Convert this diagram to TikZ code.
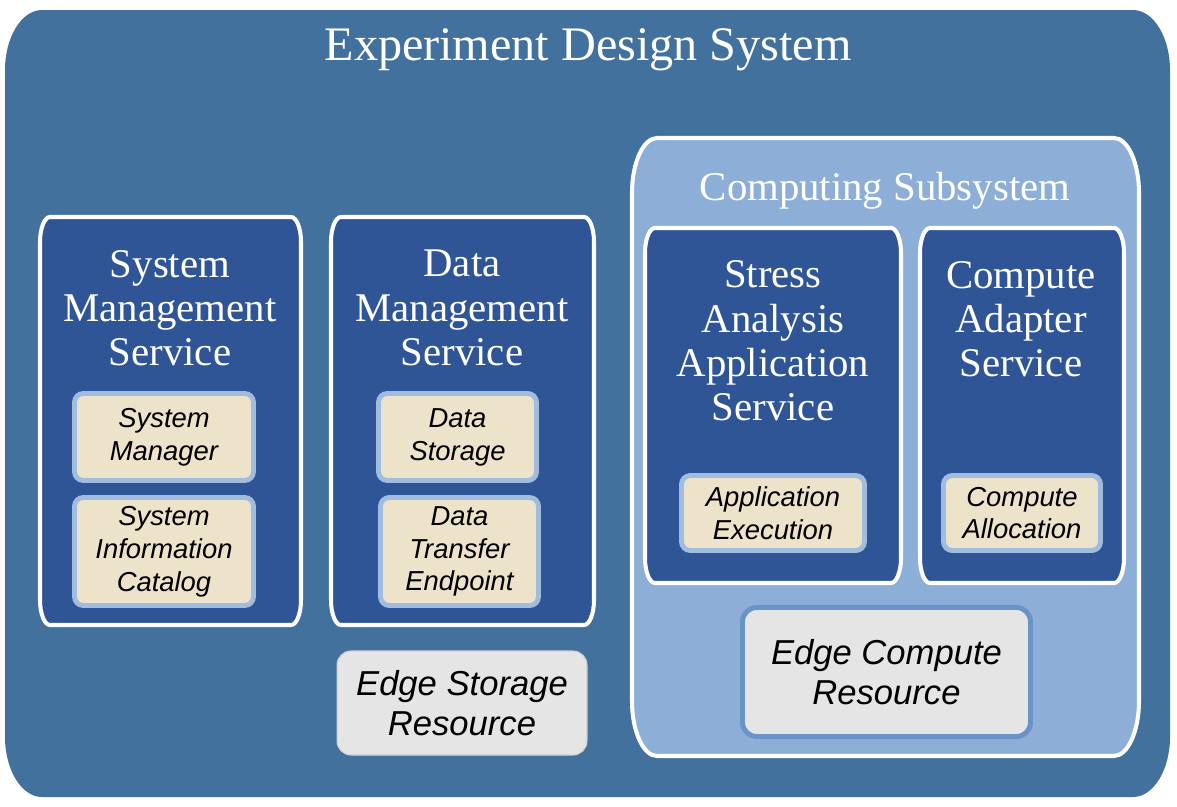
\documentclass[tikz,border=0pt]{standalone}
\usepackage{fontspec}
\setmainfont{Liberation Serif}
\newfontfamily\labelfont{Liberation Sans}
\usetikzlibrary{positioning}

\definecolor{outerblue}{HTML}{43719D}
\definecolor{serviceblue}{HTML}{2F5597}
\definecolor{subblue}{HTML}{8DAED6}
\definecolor{compfill}{HTML}{EDE3CA}
\definecolor{compline}{HTML}{A0BDE0}
\definecolor{edgefill}{HTML}{E5E5E5}
\definecolor{edgeline}{HTML}{6894C8}

% plaque: style, x1, y1, x2, y2, corner width, corner height
\newcommand{\plaque}[7]{%
\path[#1] (#2,#3+#7) .. controls (#2,#3+0.45*#7) and (#2+0.45*#6,#3) .. (#2+#6,#3)
 -- (#4-#6,#3) .. controls (#4-0.45*#6,#3) and (#4,#3+0.45*#7) .. (#4,#3+#7)
 -- (#4,#5-#7) .. controls (#4,#5-0.45*#7) and (#4-0.45*#6,#5) .. (#4-#6,#5)
 -- (#2+#6,#5) .. controls (#2+0.45*#6,#5) and (#2,#5-0.45*#7) .. (#2,#5-#7) -- cycle;}

\tikzset{
  service/.style={fill=serviceblue,draw=white,line width=2.3pt},
  heading/.style={text=white,align=center,font=\fontsize{23.2}{25.2}\selectfont},
  comp/.style={fill=compfill,draw=compline,line width=2.8pt,rounded corners=5pt,
    align=center,inner sep=0pt,font=\labelfont\itshape\fontsize{15.6}{18.7}\selectfont},
  edge/.style={fill=edgefill,rounded corners=8pt,align=center,inner sep=0pt,
    font=\labelfont\itshape\fontsize{19.7}{22.7}\selectfont}
}

\begin{document}
\begin{tikzpicture}[x=0.02cm,y=-0.02cm]

\useasboundingbox (0,0) rectangle (1177,806);

\plaque{fill=outerblue}{5}{10}{1170}{797}{37}{60}
\node[heading,font=\fontsize{27.4}{30}\selectfont] (title) at (588,50) {Experiment Design System};

% services on the left
\plaque{service}{40}{217}{301}{625}{10}{25}
\plaque{service}{331}{217}{594}{625}{10}{25}
\node[heading] (smstitle) at (170,308) {System\\Management\\Service};
\node[heading] (dmstitle) at (462,308) {Data\\Management\\Service};

\node[comp,minimum width=3.58cm,minimum height=1.74cm] (sysmgr) at (164,437) {System\\Manager};
\node[comp,minimum width=3.58cm,minimum height=2.16cm] (syscat) at (164,551.5) {System\\Information\\Catalog};
\node[comp,minimum width=3.16cm,minimum height=1.74cm] (datastore) at (457.5,437) {Data\\Storage};
\node[comp,minimum width=3.16cm,minimum height=2.16cm] (datatransfer) at (459.5,551.5) {Data\\Transfer\\Endpoint};

\node[edge,draw=edgefill!80!gray,line width=0.6pt,minimum width=5cm,minimum height=2.08cm] (edgestore) at (462,703) {Edge Storage\\Resource};

% computing subsystem
\plaque{fill=subblue,draw=white,line width=2.3pt}{632}{138}{1139}{756}{25}{55}
\node[heading] (comptitle) at (885,191) {Computing Subsystem};

\plaque{service}{645}{228}{901}{583}{10}{25}
\plaque{service}{920}{228}{1124}{583}{10}{25}
\node[heading] (stresstitle) at (773,341) {Stress\\Analysis\\Application\\Service};
\node[heading] (adaptertitle) at (1021,319) {Compute\\Adapter\\Service};

\node[comp,minimum width=3.66cm,minimum height=1.5cm] (appexec) at (773,513) {Application\\Execution};
\node[comp,minimum width=3.14cm,minimum height=1.5cm] (compalloc) at (1022,513) {Compute\\Allocation};

\node[edge,draw=edgeline,line width=2.8pt,minimum width=5.76cm,minimum height=2.58cm] (edgecomp) at (886.5,672) {Edge Compute\\Resource};

\end{tikzpicture}
\end{document}
